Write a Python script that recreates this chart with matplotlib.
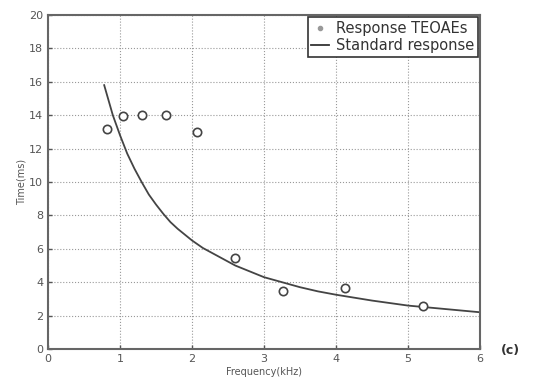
import matplotlib
matplotlib.use('Agg')

import matplotlib.pyplot as plt
from matplotlib.lines import Line2D

# Measured TEOAE response points (kHz, ms)
resp_freq = [0.82, 1.04, 1.31, 1.64, 2.07, 2.60, 3.26, 4.12, 5.21]
resp_time = [13.15, 13.95, 14.0, 14.0, 13.0, 5.45, 3.47, 3.65, 2.55]

# Standard response curve
std_freq = [0.78, 0.84, 0.9, 0.95, 1.0, 1.1, 1.2, 1.3, 1.4, 1.5, 1.6, 1.7, 1.8, 1.9, 2.0,
            2.15, 2.3, 2.45, 2.6, 2.8, 3.0, 3.25, 3.5, 3.75, 4.0, 4.5, 5.0, 5.5, 6.0]
std_time = [15.8, 14.9, 14.0, 13.4, 12.8, 11.7, 10.8, 10.0, 9.25, 8.65, 8.1, 7.6, 7.2, 6.85, 6.5,
            6.05, 5.7, 5.35, 5.0, 4.65, 4.3, 4.0, 3.7, 3.45, 3.25, 2.9, 2.6, 2.4, 2.2]

x_ticks = [0, 1, 2, 3, 4, 5, 6]
y_ticks = [0, 2, 4, 6, 8, 10, 12, 14, 16, 18, 20]

fig = plt.figure(figsize=(5.36, 3.85), dpi=100)
ax = fig.add_axes([0.0896, 0.0935, 0.806, 0.8675])

ax.plot(std_freq, std_time, color='#444444', lw=1.3, zorder=2)
ax.plot(resp_freq, resp_time, 'o', ms=6, mfc='white', mec='#444444', mew=1.2, zorder=3)

ax.set_xlim(0, 6)
ax.set_ylim(0, 20)
ax.set_xticks(x_ticks)
ax.set_yticks(y_ticks)
ax.tick_params(direction='in', length=3, labelsize=8, colors='#555555', width=1)
ax.grid(True, linestyle=':', color='#999999', lw=0.8)
for s in ax.spines.values():
    s.set_color('#666666')
    s.set_linewidth(1.5)

ax.set_xlabel('Frequency(kHz)', fontsize=7, color='#555555', labelpad=2)
ax.set_ylabel('Time(ms)', fontsize=7, color='#555555', labelpad=2)

handles = [Line2D([], [], ls='none', marker='o', ms=3, color='#999999'),
           Line2D([], [], color='#333333', lw=1.3)]
leg = ax.legend(handles, ['Response TEOAEs', 'Standard response'], loc='upper right',
                fontsize=10.5, fancybox=False, framealpha=1, edgecolor='#333333',
                borderpad=0.25, handlelength=1.2, handletextpad=0.5, labelspacing=0.15,
                borderaxespad=0.15)
leg.get_frame().set_linewidth(1.2)
for t in leg.get_texts():
    t.set_color('#333333')

fig.text(0.953, 0.09, '(c)', fontsize=9, fontweight='bold', color='#333333',
         ha='center', va='center')

fig.savefig('out.png', dpi=100)
